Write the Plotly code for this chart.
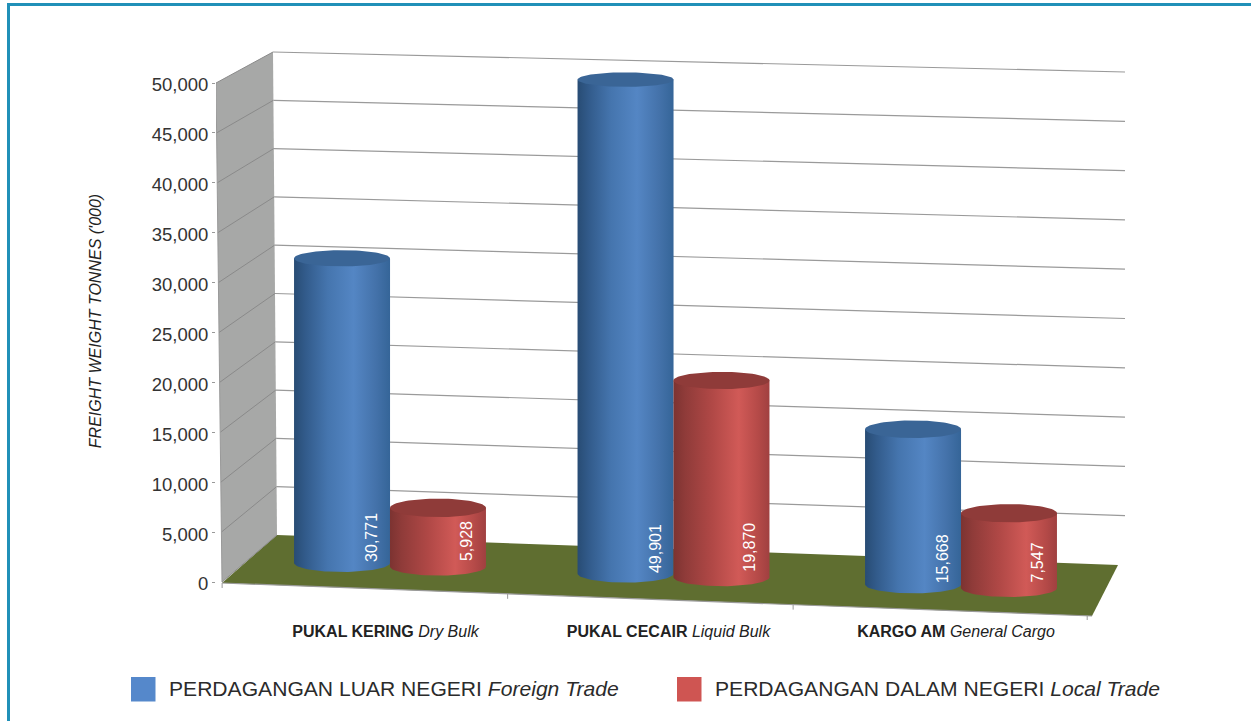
import numpy as np
import plotly.graph_objects as go

# ---- data ----
categories_bold = ["PUKAL KERING", "PUKAL CECAIR", "KARGO AM"]
categories_italic = ["Dry Bulk", "Liquid Bulk", "General Cargo"]
foreign_trade = [30771, 49901, 15668]
local_trade = [5928, 19870, 7547]
y_ticks = [0, 5000, 10000, 15000, 20000, 25000, 30000, 35000, 40000, 45000, 50000]
series_names = [("PERDAGANGAN LUAR NEGERI", "Foreign Trade"), ("PERDAGANGAN DALAM NEGERI", "Local Trade")]

W, H = 1251, 721
FONT = "Liberation Sans"
L, R, T, B = 216, 1130, 22, 620          # plot area in page pixels
PX_PER_VALUE = 0.00998
Y0 = 582                                 # page row of value 0 on the front axis
X0, GROUP = 390, 285.5                   # page column of group 0, group spacing
GROUP_SHIFT = [0, -0.007, 0]

def X(px): return (np.asarray(px, float) - X0) / GROUP
def V(py): return (Y0 - np.asarray(py, float)) / PX_PER_VALUE
def PXX(x): return X0 + GROUP * x

fig = go.Figure()

def poly(xs, ys, color=None, line=None, gradient=None):
    kw = dict(x=xs, y=ys, mode="lines", hoverinfo="skip", showlegend=False, line=dict(width=0), cliponaxis=False)
    if color or gradient:
        kw.update(fill="toself")
    if color:
        kw["fillcolor"] = color
    if gradient:
        kw["fillgradient"] = dict(type="horizontal", colorscale=gradient)
    if line:
        kw["line"] = line
    fig.add_trace(go.Scatter(**kw))

# ---- 3-D frame, derived through the axes ----
def left_x(v):  return 222 - 6 * v / 50000
def wall_x(v):  return 277 - 4 * v / 50000
def wall_y(v):  return 535 - v * 0.00966
def right_y(v): return 565 - v * 0.00986

poly(X([left_x(0), wall_x(0), wall_x(50000), left_x(50000)]).tolist(),
     V([Y0, wall_y(0), wall_y(50000), Y0 - 50000 * PX_PER_VALUE]).tolist(), color="#a7a8a7")
poly(X([222, 277, 1118, 1092]).tolist(), V([583, 535, 565, 616]).tolist(), color="#5f6e30")

for v in y_ticks:
    poly(X([left_x(v), wall_x(v)]).tolist(), V([Y0 - v * PX_PER_VALUE, wall_y(v)]).tolist(),
         line=dict(color="#8a8a8a", width=1))
    if v:
        poly(X([wall_x(v), 1125]).tolist(), V([wall_y(v), right_y(v)]).tolist(),
             line=dict(color="#9a9a9a", width=1.2))
poly(X([216, 222]).tolist(), V([Y0 - 50000 * PX_PER_VALUE, Y0]).tolist(), line=dict(color="#999999", width=1))
poly(X([222, 1092]).tolist(), V([583, 616]).tolist(), line=dict(color="#9a9a9a", width=1.2))
for g in range(4):
    gx = -0.588 + g * 1.0 + (0.03 if g == 3 else 0)
    py = 583 + 0.0379 * (PXX(gx) - 222)
    poly([gx, gx], V([py, py + 5]).tolist(), line=dict(color="#9a9a9a", width=1))

# ---- cylinders ----
HALF = 48.0 / GROUP
STEP = 0.168
BLUE_G = [[0, "#284c74"], [0.12, "#325b8b"], [0.35, "#4575ae"], [0.62, "#5486c4"], [0.85, "#4472aa"], [1, "#356598"]]
RED_G = [[0, "#7c3331"], [0.12, "#8f3b39"], [0.4, "#b04846"], [0.68, "#d15a57"], [0.88, "#b54a48"], [1, "#a04040"]]
t = np.linspace(0, np.pi, 40)

def base_px(cx_px): return 563 + 0.0375 * (cx_px - 343)

def cylinder(cx, value, grad, top_color):
    bp = base_px(PXX(cx))
    top_px = bp - value * 0.0099
    b_top = 9.5 - 0.000045 * value
    b_bot = 9.0
    ex = cx + HALF * np.cos(t)
    bottom = bp + b_bot * np.sin(t)
    # side wall: across the top, then round the front of the base
    xs = [cx - HALF, cx + HALF] + ex.tolist()
    ys = [top_px, top_px] + bottom.tolist()
    poly(xs, V(ys).tolist(), gradient=grad)
    # lid
    a = np.linspace(0, 2 * np.pi, 80)
    poly((cx + HALF * np.cos(a)).tolist(), V(top_px + b_top * np.sin(a)).tolist(), color=top_color)
    return bp

annots = []
for i in range(len(foreign_trade)):
    g = i + GROUP_SHIFT[i]
    for val, off, grad, tc in ((foreign_trade[i], -STEP, BLUE_G, "#3a6596"), (local_trade[i], STEP, RED_G, "#8f3b39")):
        bp = cylinder(g + off, val, grad, tc)
        annots.append(dict(x=g + off + (0.103 if off < 0 else 0.1), y=float(V(bp + (1 if off < 0 else -3))),
                           xref="x", yref="y", text=f"{val:,}", textangle=-90, showarrow=False,
                           yanchor="bottom", xanchor="center",
                           font=dict(family=FONT, size=16, color="white")))

# ---- legend and page furniture ----
def px_paper(px): return (px - L) / (R - L)
def py_paper(py): return 1 - (py - T) / (B - T)

swatches = [(131, "#5588cb"), (677, "#cf5552")]
shapes = []
for (sx, col), (a, b) in zip(swatches, series_names):
    shapes.append(dict(type="rect", xref="paper", yref="paper", x0=px_paper(sx), x1=px_paper(sx + 24.5),
                       y0=py_paper(677), y1=py_paper(701.5), fillcolor=col, line_width=0, layer="above"))
    annots.append(dict(x=px_paper(sx + 36), y=py_paper(688.5), xref="paper", yref="paper", showarrow=False,
                       xanchor="left", yanchor="middle", text=f"{a} <i>{b}</i>",
                       font=dict(family=FONT, size=21.1, color="#2b2b2b")))
shapes.append(dict(type="line", xref="paper", yref="paper", x0=px_paper(8.5), x1=px_paper(8.5),
                   y0=py_paper(3), y1=py_paper(721), line=dict(color="#2090b8", width=3), layer="above"))
shapes.append(dict(type="line", xref="paper", yref="paper", x0=px_paper(7), x1=px_paper(W),
                   y0=py_paper(4.5), y1=py_paper(4.5), line=dict(color="#2090b8", width=3), layer="above"))

label_x = [(385.5 - X0) / GROUP, (668.5 - X0) / GROUP, (956 - X0) / GROUP]
fig.update_layout(
    width=W, height=H, autosize=False, paper_bgcolor="white", plot_bgcolor="white",
    margin=dict(l=L, r=W - R, t=T, b=H - B, pad=0, autoexpand=False),
    showlegend=False, shapes=shapes, annotations=annots,
    xaxis=dict(range=[float(X(L)), float(X(R))], showgrid=False, zeroline=False, showline=False, ticks="",
               tickmode="array", tickvals=label_x,
               ticktext=[f"<b>{a}</b> <i>{b}</i>" for a, b in zip(categories_bold, categories_italic)],
               tickfont=dict(family=FONT, size=16, color="#222222"), tickangle=0),
    yaxis=dict(range=[float(V(B)), float(V(T))], showgrid=False, zeroline=False, showline=False,
               tickmode="array", tickvals=y_ticks, ticktext=[f"{v:,}" for v in y_ticks],
               ticks="outside", ticklen=3, tickcolor="#999999", ticklabelshift=2,
               tickfont=dict(family=FONT, size=18.5, color="#333333"),
               title=dict(text="<i>FREIGHT WEIGHT TONNES ('000)</i>", standoff=46,
                          font=dict(family=FONT, size=16, color="#222222"))),
)
fig.write_html("out.html", post_script="document.body.style.margin='0';",
               config=dict(displayModeBar=False))
